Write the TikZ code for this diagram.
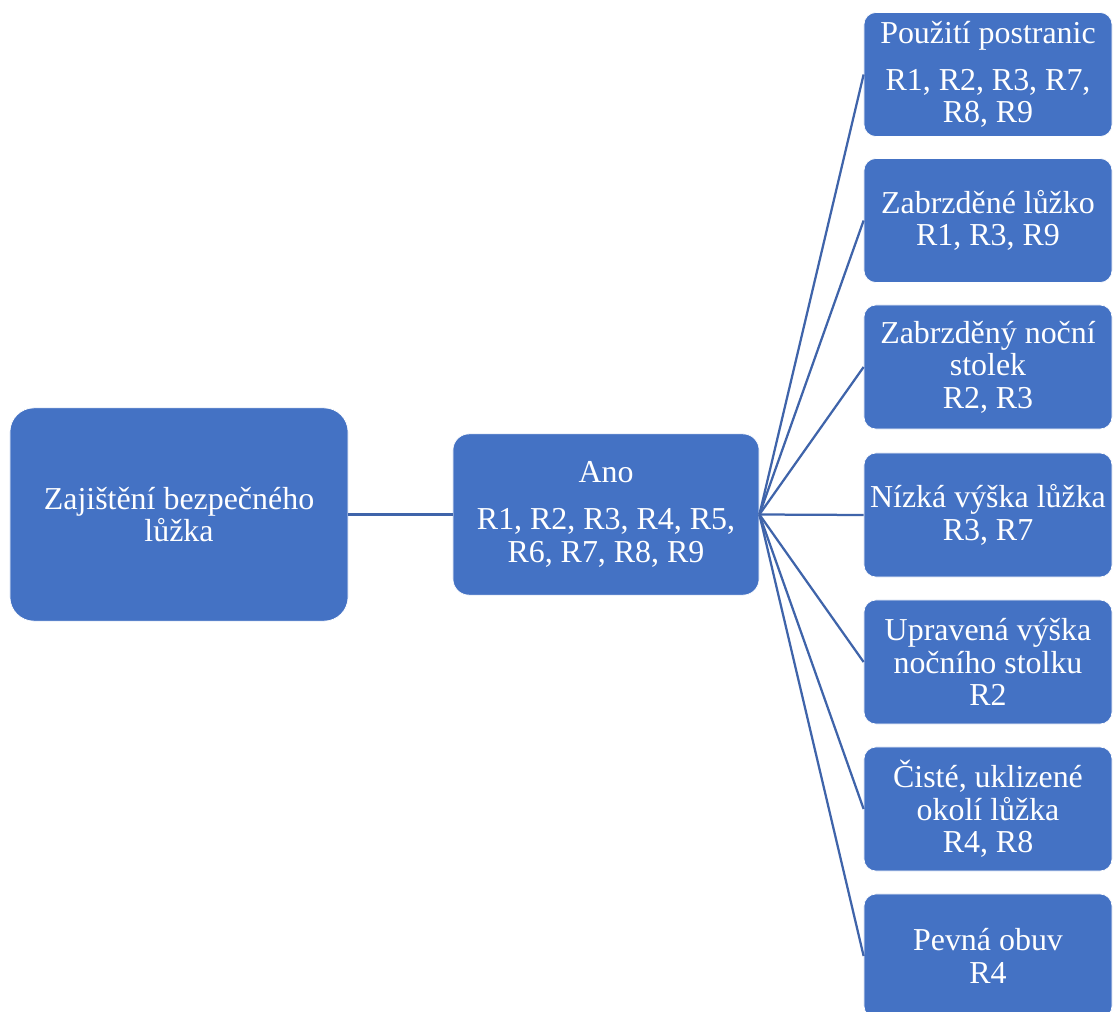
\documentclass[tikz,border=0pt]{standalone}
\usepackage{fontspec}
\setmainfont{Liberation Serif}
\usepackage{xcolor}
\definecolor{boxblue}{HTML}{4472C4}
\definecolor{linkblue}{HTML}{3F64AA}

\begin{document}
\begin{tikzpicture}[x=0.025cm, y=-0.025cm,
    box/.style={fill=boxblue, draw=white, line width=0.5pt, text=white, align=center,
        font=\rmfamily\fontsize{22.7}{23.2}\selectfont, inner sep=2pt},
    leaf/.style={box, rounded corners=0.3cm, minimum width=6.2cm, minimum height=3.1cm},
    link/.style={linkblue, line width=1.6pt}]
        \useasboundingbox (0,0) rectangle (1113,1012);
        % Root
        \node[box, rounded corners=0.6cm, minimum width=8.45cm, minimum height=5.33cm] (root) at (179,514.5) {Zajištění bezpečného\\lůžka};
        % Middle
        \node[box, rounded corners=0.4cm, minimum width=7.65cm, minimum height=4.03cm] (ano) at (606,514.5) {Ano\\[10pt]R1, R2, R3, R4, R5,\\R6, R7, R8, R9};
        % Leaves
        \node[leaf] (b1) at (988,74.5) {Použití postranic\\[10pt]R1, R2, R3, R7,\\R8, R9};
        \node[leaf] (b2) at (988,220.5) {Zabrzděné lůžko\\R1, R3, R9};
        \node[leaf] (b3) at (988,367) {Zabrzděný noční\\stolek\\R2, R3};
        \node[leaf] (b4) at (988,515) {Nízká výška lůžka\\R3, R7};
        \node[leaf] (b5) at (988,662) {Upravená výška\\nočního stolku\\R2};
        \node[leaf] (b6) at (988,809) {Čisté, uklizené\\okolí lůžka\\R4, R8};
        \node[leaf] (b7) at (988,956) {Pevná obuv\\R4};
        % Links
        \draw[link] (root.east) -- (ano.west);
        \foreach \n in {b1,b2,b3,b4,b5,b6,b7}
            \draw[link] (ano.east) -- (\n.west);
    \end{tikzpicture}
\end{document}
